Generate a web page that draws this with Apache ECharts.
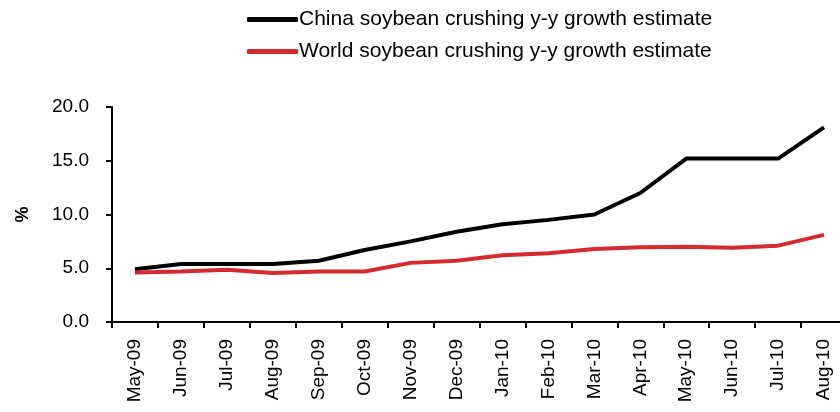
<!DOCTYPE html>
<html>
<head>
<meta charset="utf-8">
<script src="https://cdn.jsdelivr.net/npm/echarts@6/dist/echarts.min.js"></script>
<style>
  html, body { margin: 0; padding: 0; background: #fff; }
  #chart { width: 840px; height: 412px; }
</style>
</head>
<body>
<div id="chart"></div>
<script>
// Monthly categories
const months = ['May-09', 'Jun-09', 'Jul-09', 'Aug-09', 'Sep-09', 'Oct-09', 'Nov-09', 'Dec-09',
                'Jan-10', 'Feb-10', 'Mar-10', 'Apr-10', 'May-10', 'Jun-10', 'Jul-10', 'Aug-10'];

// Year-on-year growth estimates, %
const chinaGrowth = [4.9, 5.4, 5.4, 5.4, 5.7, 6.7, 7.5, 8.4, 9.1, 9.5, 10.0, 12.0, 15.2, 15.2, 15.2, 18.1];
const worldGrowth = [4.6, 4.7, 4.85, 4.55, 4.7, 4.7, 5.5, 5.7, 6.2, 6.4, 6.8, 6.95, 7.0, 6.9, 7.1, 8.1];

const seriesNames = ['China soybean crushing y-y growth estimate', 'World soybean crushing y-y growth estimate'];

const chart = echarts.init(document.getElementById('chart'), null, { renderer: 'canvas' });
const font = 'Liberation Sans, Arial, sans-serif';

chart.setOption({
  animation: false,
  backgroundColor: '#fff',
  legend: {
    orient: 'vertical',
    left: 242,
    top: 4,
    itemWidth: 51,
    itemHeight: 5,
    itemGap: 11,
    icon: 'roundRect',
    textStyle: { fontFamily: font, fontSize: 21, color: '#000', padding: [0, 0, 0, -4] },
    data: seriesNames
  },
  grid: { left: 112, right: -7, top: 107, bottom: 90, outerBoundsMode: 'none', containLabel: false },
  xAxis: {
    type: 'category',
    data: months,
    boundaryGap: true,
    axisLine: { lineStyle: { color: '#000', width: 2 } },
    axisTick: { show: true, length: 6, interval: 0, lineStyle: { color: '#000', width: 2 } },
    axisLabel: { rotate: 90, interval: 0, margin: 17, fontFamily: font, fontSize: 19, color: '#000' },
    splitLine: { show: false }
  },
  yAxis: {
    type: 'value',
    min: 0, max: 20, interval: 5,
    name: '%',
    nameLocation: 'middle',
    nameGap: 80,
    nameRotate: 90,
    nameTextStyle: { fontFamily: font, fontSize: 18, fontWeight: 'bold', color: '#000' },
    axisLine: { show: true, lineStyle: { color: '#000', width: 2 } },
    axisTick: { show: true, length: 6, lineStyle: { color: '#000', width: 2 } },
    axisLabel: { margin: 23, fontFamily: font, fontSize: 19, color: '#000', formatter: v => v.toFixed(1) },
    splitLine: { show: false }
  },
  series: [
    {
      name: seriesNames[0], type: 'line', data: chinaGrowth,
      symbol: 'none', lineStyle: { color: '#000', width: 4 }, itemStyle: { color: '#000' }
    },
    {
      name: seriesNames[1], type: 'line', data: worldGrowth,
      symbol: 'none', lineStyle: { color: '#d42a30', width: 4 }, itemStyle: { color: '#d42a30' }
    }
  ]
});
</script>
</body>
</html>
